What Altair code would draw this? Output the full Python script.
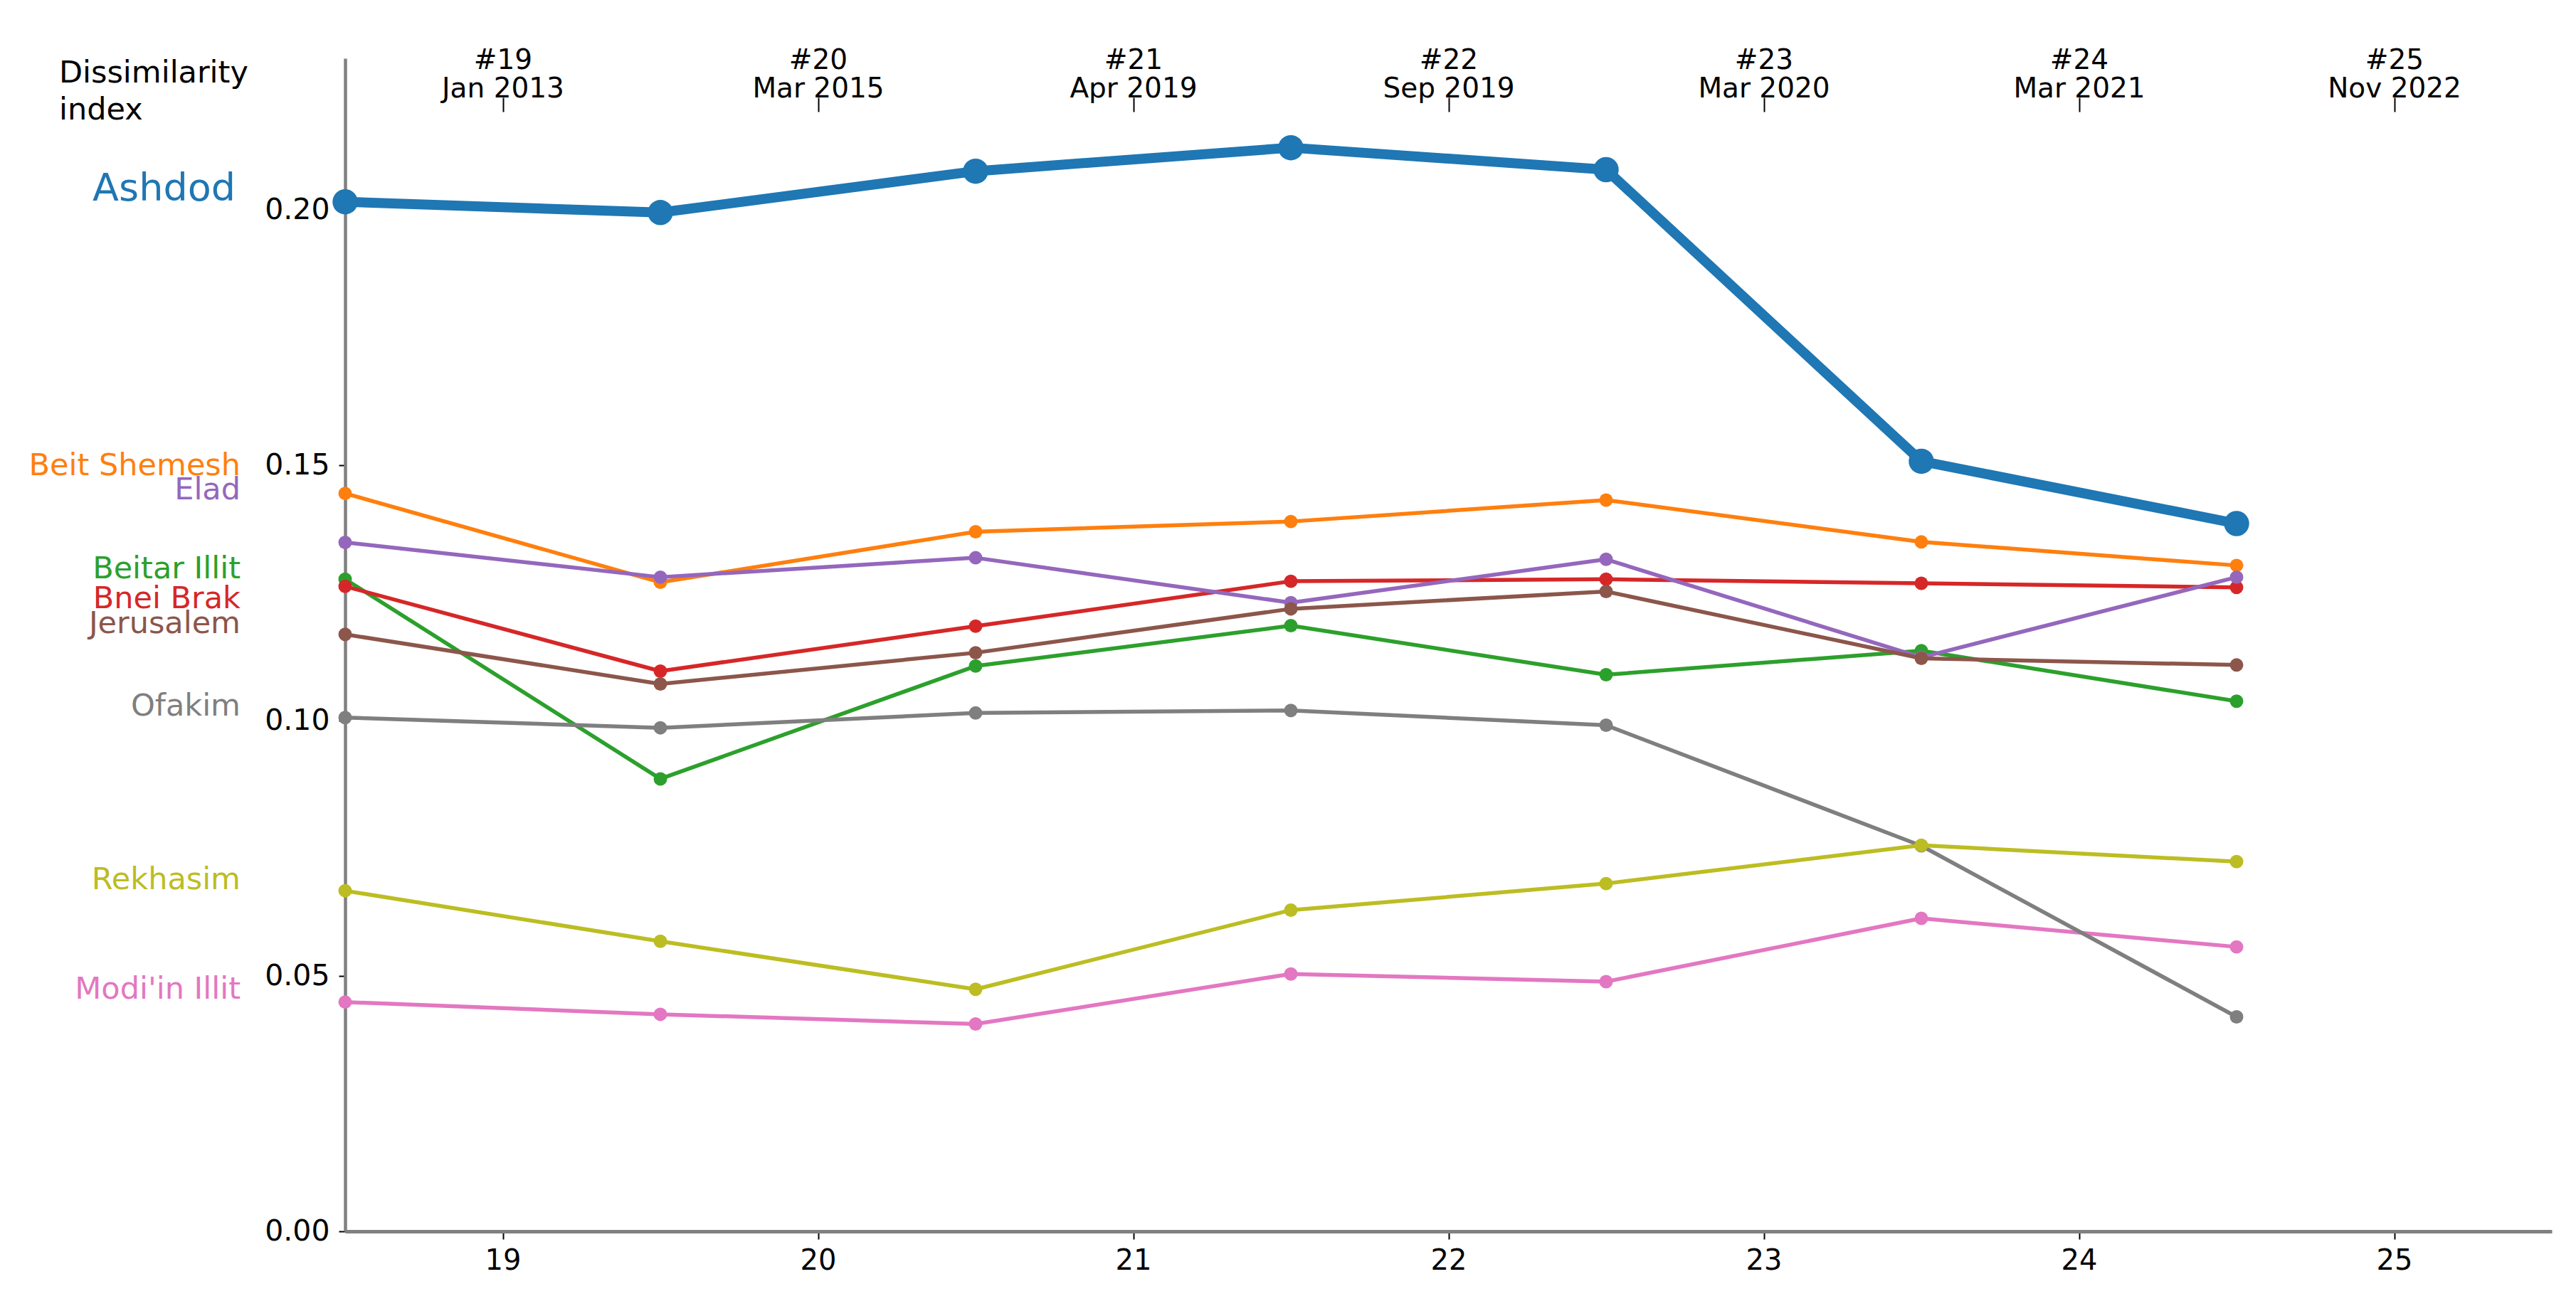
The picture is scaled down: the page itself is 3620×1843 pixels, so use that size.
import altair as alt
import pandas as pd

# ---------------- data ----------------
cities = ["Ashdod", "Beit Shemesh", "Beitar Illit", "Bnei Brak", "Elad",
          "Jerusalem", "Modi'in Illit", "Ofakim", "Rekhasim"]
colors = ["#1f77b4", "#ff7f0e", "#2ca02c", "#d62728", "#9467bd",
          "#8c564b", "#e377c2", "#7f7f7f", "#bcbd22"]

x_positions = [18.5, 19.5, 20.5, 21.5, 22.5, 23.5, 24.5]

ashdod       = [0.2016, 0.1995, 0.2076, 0.2122, 0.2079, 0.1508, 0.1386]
beit_shemesh = [0.1445, 0.1271, 0.1370, 0.1390, 0.1432, 0.1350, 0.1304]
beitar_illit = [0.1277, 0.0886, 0.1107, 0.1186, 0.1090, 0.1137, 0.1038]
bnei_brak    = [0.1263, 0.1097, 0.1185, 0.1273, 0.1277, 0.1269, 0.1261]
elad         = [0.1349, 0.1281, 0.1319, 0.1231, 0.1316, 0.1124, 0.1281]
jerusalem    = [0.1169, 0.1072, 0.1133, 0.1219, 0.1253, 0.1122, 0.1109]
modiin_illit = [0.0449, 0.0425, 0.0406, 0.0504, 0.0489, 0.0613, 0.0557]
ofakim       = [0.1006, 0.0986, 0.1015, 0.1020, 0.0991, 0.0755, 0.0420]
rekhasim     = [0.0667, 0.0568, 0.0474, 0.0629, 0.0681, 0.0756, 0.0724]

series = [ashdod, beit_shemesh, beitar_illit, bnei_brak, elad,
          jerusalem, modiin_illit, ofakim, rekhasim]

# where each city's name sits on the left (in index units)
label_y = [0.2040, 0.1499, 0.1297, 0.1238, 0.1452,
           0.1189, 0.0474, 0.1028, 0.0688]

election_numbers = [19, 20, 21, 22, 23, 24, 25]
election_dates = ["Jan 2013", "Mar 2015", "Apr 2019", "Sep 2019",
                  "Mar 2020", "Mar 2021", "Nov 2022"]
y_ticks = [0.0, 0.05, 0.10, 0.15, 0.20]

# ---------------- tables ----------------
rows = []
for c, vals in zip(cities, series):
    for xv, yv in zip(x_positions, vals):
        rows.append({"city": c, "x": xv, "value": yv})
df = pd.DataFrame(rows)
labels_df = pd.DataFrame({"city": cities, "label_y": label_y})

FONT = "DejaVu Sans"
xscale = alt.Scale(domain=[18.5, 25.5], nice=False, zero=False)
yscale = alt.Scale(domain=[0, 0.2297], nice=False, zero=False)
cscale = alt.Scale(domain=cities, range=colors)

y_axis = alt.Axis(values=y_ticks, format=".2f", title=None, grid=False,
                  tickSize=9, tickWidth=2, tickColor="black",
                  domainColor="#808080", domainWidth=4.5,
                  labelFontSize=41, labelFont=FONT, labelColor="black",
                  labelPadding=13)
x_axis_bottom = alt.Axis(values=election_numbers, format="d", title=None,
                         grid=False, tickSize=11, tickWidth=2,
                         tickColor="black", domainColor="#808080",
                         domainWidth=5, labelFontSize=40, labelFont=FONT,
                         labelColor="black", labelPadding=10,
                         labelFlush=False)

expr = ""
for n, d in zip(election_numbers, election_dates):
    expr += f"datum.value == {n} ? ['#{n}', '{d}'] : "
expr += "''"
x_axis_top = alt.Axis(orient="top", values=election_numbers, labelExpr=expr,
                      offset=-75, domain=False, tickSize=20, tickWidth=2,
                      tickColor="black", labelFontSize=39, labelFont=FONT,
                      labelColor="black", labelLineHeight=40,
                      labelBaseline="bottom", labelPadding=33, title=None,
                      grid=False, labelFlush=False, labelOverlap=False,
                      labelLimit=600)

Y = alt.Y("value:Q", scale=yscale, axis=y_axis)
C = alt.Color("city:N", scale=cscale, legend=None)

layers = []
# axis carrier layers
layers.append(alt.Chart(df).mark_point(opacity=0).encode(
    x=alt.X("x:Q", scale=xscale, axis=x_axis_bottom), y=Y))
layers.append(alt.Chart(df).mark_point(opacity=0).encode(
    x=alt.X("x:Q", scale=xscale, axis=x_axis_top), y=Y))

X = alt.X("x:Q", scale=xscale, axis=None)
for c in cities:
    sub = df[df["city"] == c]
    thick = (c == "Ashdod")
    layers.append(alt.Chart(sub).mark_line(
        strokeWidth=14 if thick else 5.5, strokeJoin="round",
        strokeCap="round").encode(x=X, y=Y, color=C, order="x:Q"))
    layers.append(alt.Chart(sub).mark_circle(
        size=1260 if thick else 360, opacity=1).encode(x=X, y=Y, color=C))

# city labels on the left
lab_y = alt.Y("label_y:Q", scale=yscale, axis=y_axis)
layers.append(alt.Chart(labels_df[labels_df["city"] != "Ashdod"]).mark_text(
    align="right", baseline="middle", fontSize=43, font=FONT).encode(
    x=alt.value(-147), y=lab_y, text="city:N", color=C))
layers.append(alt.Chart(labels_df[labels_df["city"] == "Ashdod"]).mark_text(
    align="right", baseline="middle", fontSize=54, font=FONT).encode(
    x=alt.value(-154), y=lab_y, text="city:N", color=C))

# y title
layers.append(alt.Chart(pd.DataFrame({"t": [0]})).mark_text(
    align="left", baseline="top", fontSize=43, font=FONT, lineHeight=52,
    color="black", text=["Dissimilarity", "index"]).encode(
    x=alt.value(-402), y=alt.value(0)))

chart = alt.layer(*layers).resolve_axis(x="independent").properties(
    width=3101, height=1649,
    padding={"left": 477, "top": 74, "right": 20, "bottom": 90},
    autosize=alt.AutoSizeParams(type="none"),
    background="white",
).configure_view(stroke=None)

chart.save("out.html", embed_options={"renderer": "svg", "actions": False})
